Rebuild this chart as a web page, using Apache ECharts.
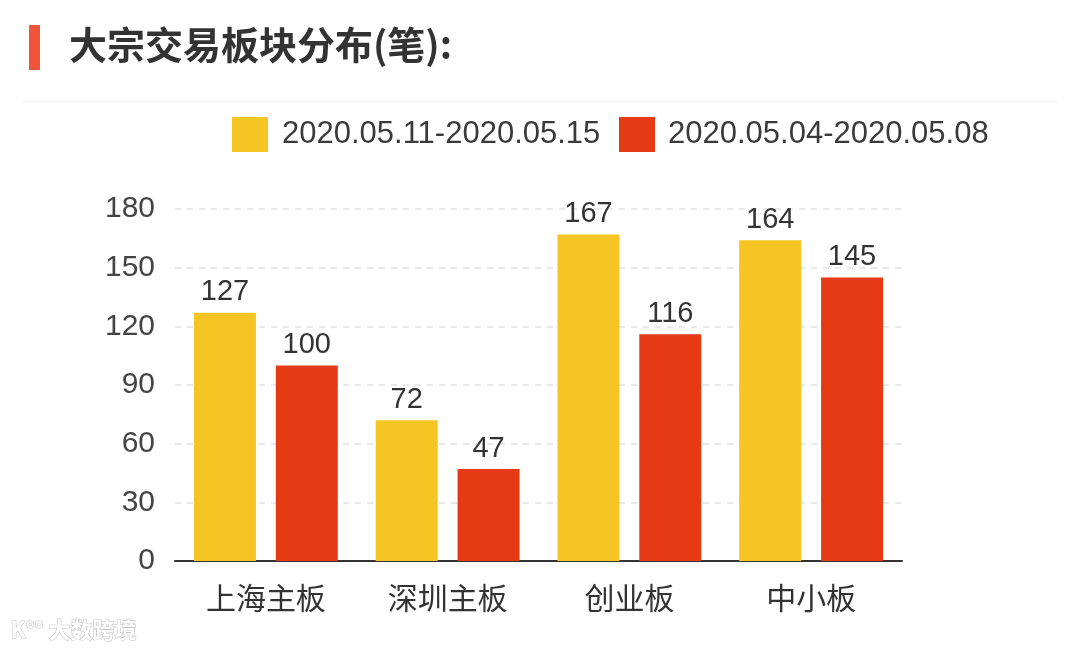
<!DOCTYPE html>
<html>
<head>
<meta charset="utf-8">
<script src="https://cdn.jsdelivr.net/npm/echarts@6/dist/echarts.min.js"></script>
<style>html,body{margin:0;padding:0;background:#fff;}#c{width:1080px;height:652px;}</style>
</head>
<body>
<div id="c"></div>
<script>
const titleText = '大宗交易板块分布(笔):';
const categories = ['上海主板', '深圳主板', '创业板', '中小板'];
const seriesNames = ['2020.05.11-2020.05.15', '2020.05.04-2020.05.08'];
const week1 = [127, 72, 167, 164];
const week2 = [100, 47, 116, 145];
const yTicks = [0, 30, 60, 90, 120, 150, 180];
const colors = ['#F5C523', '#E63A15'];

const chart = echarts.init(document.getElementById('c'), null, {renderer: 'canvas'});
const numFont = '"Liberation Sans", Arial, sans-serif';
const cjkFont = '"Noto Sans CJK SC", sans-serif';
const option = {
  backgroundColor: '#fff',
  animation: false,
  graphic: [
    {type: 'rect', shape: {x: 29, y: 25, width: 11, height: 45}, style: {fill: '#F0553A'}},
    {type: 'text', left: 69, top: 26, style: {text: titleText, font: 'bold 38px ' + cjkFont, fill: '#333333'}},
    {type: 'rect', shape: {x: 22, y: 101, width: 1036, height: 1}, style: {fill: '#f2f2f2'}},
    {type: 'text', left: 10, top: 618, style: {text: 'K°° 大数跨境', font: 'bold 22px ' + cjkFont, fill: '#ffffff', stroke: '#c8c8c8', lineWidth: 1.2}}
  ],
  legend: [
    {data: [seriesNames[0]], left: 232, top: 117, padding: 0, itemWidth: 36, itemHeight: 35, icon: 'rect',
     textStyle: {fontSize: 31, fontFamily: numFont, color: '#3a3a3a', padding: [0, 0, 0, 9]}},
    {data: [seriesNames[1]], left: 619, top: 117, padding: 0, itemWidth: 36, itemHeight: 35, icon: 'rect',
     textStyle: {fontSize: 31, fontFamily: numFont, color: '#3a3a3a', padding: [0, 0, 0, 8]}}
  ],
  grid: {left: 175, right: 178, top: 209, bottom: 91, containLabel: false},
  xAxis: {
    type: 'category', data: categories,
    axisLine: {lineStyle: {color: '#333', width: 2}},
    axisTick: {show: false},
    axisLabel: {fontSize: 30, fontFamily: cjkFont, color: '#333', margin: 22}
  },
  yAxis: {
    type: 'value', min: yTicks[0], max: yTicks[yTicks.length - 1], interval: 30,
    axisLine: {show: false}, axisTick: {show: false},
    axisLabel: {fontSize: 30, fontFamily: numFont, color: '#444', margin: 20},
    splitLine: {lineStyle: {color: '#e2e2e2', type: [6, 6], width: 1.5}}
  },
  series: [
    {name: seriesNames[0], type: 'bar', data: week1, barWidth: 62, barGap: '32%',
     itemStyle: {color: colors[0]},
     label: {show: true, position: 'top', distance: 6, fontSize: 29, fontFamily: numFont, color: '#333'}},
    {name: seriesNames[1], type: 'bar', data: week2, barWidth: 62, barGap: '32%',
     itemStyle: {color: colors[1]},
     label: {show: true, position: 'top', distance: 6, fontSize: 29, fontFamily: numFont, color: '#333'}}
  ]
};
chart.setOption(option);
</script>
</body>
</html>
